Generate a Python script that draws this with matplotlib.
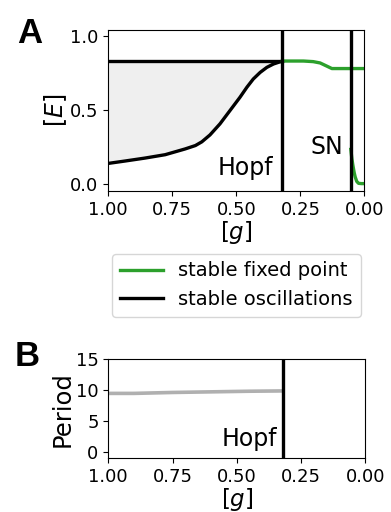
import numpy as np
import matplotlib
matplotlib.use('Agg')
import matplotlib.pyplot as plt

# panel A: oscillation envelope (black)
g_osc = [1.0, 0.935, 0.857, 0.778, 0.70, 0.66, 0.635, 0.603, 0.564, 0.525,
         0.486, 0.459, 0.434, 0.407, 0.381, 0.355, 0.329, 0.32]
E_osc_min = [0.137, 0.153, 0.173, 0.196, 0.235, 0.258, 0.283, 0.33, 0.405, 0.495,
             0.585, 0.653, 0.709, 0.754, 0.788, 0.811, 0.826, 0.829]
E_osc_max = [0.829] * len(g_osc)

# stable fixed point branches (green)
g_fp_high = [0.32, 0.238, 0.2, 0.173, 0.145, 0.127, 0.08, 0.0]
E_fp_high = [0.831, 0.831, 0.827, 0.818, 0.795, 0.78, 0.78, 0.78]
g_fp_low = [0.053, 0.049, 0.045, 0.04, 0.036, 0.03, 0.023, 0.012, 0.0]
E_fp_low = [0.232, 0.17, 0.124, 0.075, 0.045, 0.015, 0.002, 0.0, 0.0]

g_hopf = 0.32
g_sn = 0.053

# panel B: period of oscillations
g_period = [1.0, 0.9, 0.75, 0.6, 0.45, 0.32]
period = [9.5, 9.5, 9.65, 9.75, 9.85, 9.9]

xticks = [1.0, 0.75, 0.5, 0.25, 0.0]

plt.rcParams['font.family'] = 'DejaVu Sans'

fig = plt.figure(figsize=(3.91, 5.12), dpi=100)
axA = fig.add_axes([0.277, 0.627, 0.655, 0.314])
axB = fig.add_axes([0.277, 0.105, 0.657, 0.193])

# panel A
axA.fill_between(g_osc, E_osc_min, E_osc_max, color='#dddddd', alpha=0.45, lw=0)
axA.plot(g_osc, E_osc_max, color='black', lw=2.4)
axA.plot(g_osc, E_osc_min, color='black', lw=2.4, label='stable oscillations')
axA.plot(g_fp_high, E_fp_high, color='tab:green', lw=2.4, label='stable fixed point')
axA.plot(g_fp_low, E_fp_low, color='tab:green', lw=2.4)
axA.axvline(g_hopf, color='black', lw=2.4)
axA.axvline(g_sn, color='black', lw=2.4)
axA.text(g_hopf + 0.037, 0.055, 'Hopf', ha='right', va='baseline', fontsize=17)
axA.text(g_sn + 0.029, 0.2, 'SN', ha='right', va='baseline', fontsize=17)
axA.set_xlim(1.0, 0.0)
axA.set_ylim(-0.05, 1.04)
axA.set_xticks(xticks)
axA.set_yticks([0.0, 0.5, 1.0])
axA.tick_params(labelsize=13)
axA.set_xlabel('$[g]$', fontsize=16.5, labelpad=0)
axA.set_ylabel('$[E]$', fontsize=17, labelpad=1)

handles, labels = axA.get_legend_handles_labels()
axA.legend([handles[1], handles[0]], [labels[1], labels[0]],
           loc='upper center', bbox_to_anchor=(0.5, -0.39), borderaxespad=0,
           fontsize=14, handlelength=2.2)

# panel B
axB.plot(g_period, period, color='#b0b0b0', lw=2.6)
axB.axvline(g_hopf, color='black', lw=2.4)
axB.text(g_hopf + 0.024, 1.0, 'Hopf', ha='right', va='baseline', fontsize=17)
axB.set_xlim(1.0, 0.0)
axB.set_ylim(-1, 15)
axB.set_xticks(xticks)
axB.set_yticks([0, 5, 10, 15])
axB.tick_params(labelsize=13)
axB.set_xlabel('$[g]$', fontsize=16.5, labelpad=0)
axB.set_ylabel('Period', fontsize=17.5, labelpad=1)

fig.text(0.043, 0.967, 'A', fontsize=25, fontweight='bold', va='top', ha='left',
         family='Liberation Sans')
fig.text(0.038, 0.336, 'B', fontsize=25, fontweight='bold', va='top', ha='left',
         family='Liberation Sans')

fig.savefig('out.png', dpi=100)
